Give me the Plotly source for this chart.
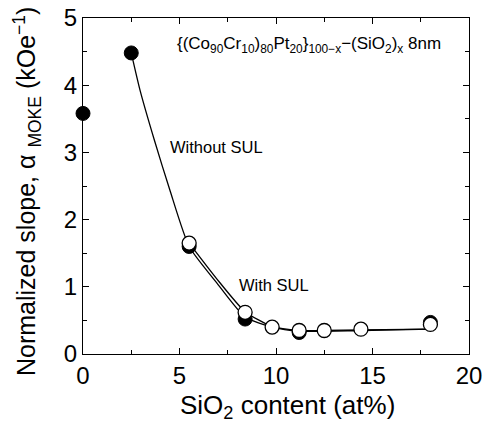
import plotly.graph_objects as go

# Measured data points
without_x = [0, 2.5, 5.5, 8.4, 11.2, 18]
without_y = [3.58, 4.48, 1.60, 0.52, 0.32, 0.47]
with_x = [5.5, 8.4, 9.8, 11.2, 12.5, 14.4, 18]
with_y = [1.65, 0.62, 0.40, 0.35, 0.35, 0.37, 0.44]

# Guide curves
fit_without_x = [2.5, 2.95, 3.7, 4.5, 5.5, 6.9, 8.4, 9.8, 11.2, 14.4, 18]
fit_without_y = [4.48, 3.93, 3.18, 2.44, 1.60, 1.07, 0.55, 0.40, 0.34, 0.35, 0.37]
fit_with_x = [5.5, 6.9, 8.4, 9.8, 11.2, 12.5, 14.4, 18]
fit_with_y = [1.65, 1.13, 0.63, 0.41, 0.35, 0.35, 0.36, 0.37]

x_ticks = [0, 5, 10, 15, 20]
y_ticks = [0, 1, 2, 3, 4, 5]

FONT = "Liberation Sans, Arial, Helvetica, sans-serif"

fig = go.Figure()
fig.add_trace(go.Scatter(x=fit_without_x, y=fit_without_y, mode="lines",
                         line=dict(color="black", width=1.3, shape="spline", smoothing=0.6),
                         hoverinfo="skip", showlegend=False))
fig.add_trace(go.Scatter(x=fit_with_x, y=fit_with_y, mode="lines",
                         line=dict(color="black", width=1.3, shape="spline", smoothing=0.6),
                         hoverinfo="skip", showlegend=False))
fig.add_trace(go.Scatter(x=without_x, y=without_y, mode="markers", cliponaxis=False,
                         marker=dict(size=14, color="black", line=dict(color="black", width=1)),
                         name="Without SUL", showlegend=False))
fig.add_trace(go.Scatter(x=with_x, y=with_y, mode="markers", cliponaxis=False,
                         marker=dict(size=14, color="white", line=dict(color="black", width=1.3)),
                         name="With SUL", showlegend=False))

fig.add_annotation(x=18.65, y=4.6, xanchor="right", yanchor="middle",
                   text="{(Co<sub>90</sub>Cr<sub>10</sub>)<sub>80</sub>Pt<sub>20</sub>}<sub>100−x</sub>−(SiO<sub>2</sub>)<sub>x</sub> 8nm",
                   showarrow=False, font=dict(family=FONT, size=17, color="black"))
fig.add_annotation(x=4.4, y=3.08, xanchor="left", yanchor="middle", text="Without SUL",
                   showarrow=False, font=dict(family=FONT, size=16.5, color="black"))
fig.add_annotation(x=7.98, y=1.03, xanchor="left", yanchor="middle", text="With SUL",
                   showarrow=False, font=dict(family=FONT, size=16.5, color="black"))

# Axis titles (placed as annotations so their centres match the reference)
fig.add_annotation(xref="paper", yref="paper", x=0.531, y=0, yanchor="middle", xanchor="center",
                   yshift=-52, text="SiO<sub>2</sub> content (at%)", showarrow=False,
                   font=dict(family=FONT, size=26, color="black"))
fig.add_annotation(xref="paper", yref="paper", x=0, y=0.482, xanchor="center", yanchor="middle",
                   xshift=-56, textangle=-90,
                   text="Normalized slope, α <sub>MOKE</sub> (kOe<sup>−1</sup>)", showarrow=False,
                   font=dict(family=FONT, size=25, color="black"))

axis_common = dict(showgrid=False, zeroline=False, showline=True, linecolor="black", linewidth=1.2,
                   mirror="ticks", ticks="inside", ticklen=6, tickwidth=1, tickcolor="black",
                   automargin=False,
                   tickfont=dict(family=FONT, size=24, color="black"))

fig.update_xaxes(range=[0, 20], tickvals=x_ticks, ticktext=[str(v) for v in x_ticks],
                 minor=dict(ticks="inside", dtick=2.5, ticklen=4, tickcolor="black"),
                 **axis_common)
fig.update_yaxes(range=[0, 5], tickvals=y_ticks, ticktext=[str(v) for v in y_ticks],
                 minor=dict(ticks="inside", dtick=0.5, ticklen=4, tickcolor="black"),
                 **axis_common)

fig.update_layout(width=485, height=425, margin=dict(l=83, r=16, t=18, b=71),
                  plot_bgcolor="white", paper_bgcolor="white", font=dict(family=FONT, color="black"))

fig.write_html("out.html", config={"displayModeBar": False},
               post_script="document.body.style.margin='0';document.body.style.overflow='hidden';")
